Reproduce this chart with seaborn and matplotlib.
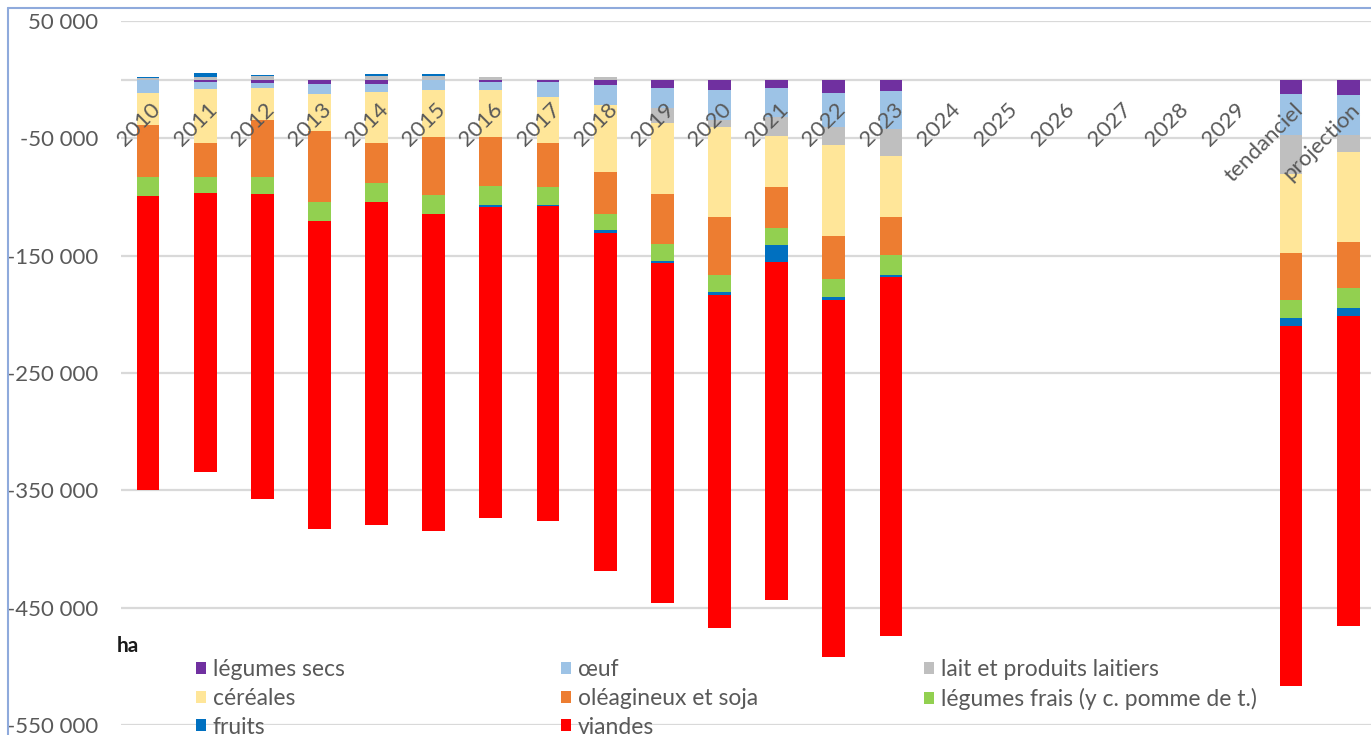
import numpy as np
import pandas as pd
import matplotlib
matplotlib.use("Agg")
import matplotlib.pyplot as plt
import seaborn as sns
from matplotlib.patches import Patch
from matplotlib.lines import Line2D

# ---------------- data ----------------
axis_categories = [str(y) for y in range(2010, 2030)] + ["tendanciel", "projection"]
bar_categories = [str(y) for y in range(2010, 2024)] + ["tendanciel", "projection"]

legumes_secs = [0, -2000, -3200, -4000, -4000, 0, -2000, -2300, -4900, -7200, -8900, -7200, -11700, -10000, -12500, -13400]
oeuf = [-11700, -6200, -4000, -8500, -6600, -8900, -6800, -12200, -17000, -17300, -25800, -24700, -29000, -32400, -34700, -33800]
lait = [1000, 2600, 3400, 0, 3000, 3500, 2000, 0, 2000, -12200, -5700, -16200, -14700, -22700, -32900, -14700]
cereales = [-27000, -45400, -27500, -31300, -43100, -39700, -39700, -39200, -56500, -60500, -76700, -43400, -77900, -52000, -67300, -76100]
oleagineux = [-44300, -29300, -48300, -60100, -34100, -49700, -42100, -37800, -35800, -42600, -49400, -35200, -36900, -32400, -40600, -39800]
legumes_frais = [-16200, -14100, -14100, -16200, -16200, -15800, -16200, -15300, -14200, -14800, -14100, -14200, -15300, -17000, -15300, -17000]
fruits = [1200, 2800, 1000, 0, 1700, 1100, -1700, -1100, -2000, -1400, -2900, -14100, -2100, -1700, -6800, -6800]
viandes = [-250700, -237400, -260400, -263000, -275700, -270600, -265200, -268300, -288500, -290200, -283900, -288500, -304500, -306000, -306600, -264100]

series_names = ["légumes secs", "œuf", "lait et produits laitiers", "céréales",
                "oléagineux et soja", "légumes frais (y c. pomme de t.)", "fruits", "viandes"]
series_values = [legumes_secs, oeuf, lait, cereales, oleagineux, legumes_frais, fruits, viandes]
colors = ["#7030A0", "#9DC3E6", "#BFBFBF", "#FFE699", "#ED7D31", "#92D050", "#0070C0", "#FF0000"]

y_ticks = [50000, -50000, -150000, -250000, -350000, -450000, -550000]

# ---------------- style ----------------
sns.set_style("white")
plt.rcParams["font.family"] = ["Lato", "DejaVu Sans"]
TXT = "#595959"

W, H = 1371, 735
fig = plt.figure(figsize=(W / 100, H / 100), dpi=100)
ax = fig.add_axes([121 / W, 1 - 725 / H, 1 - 121 / W, (725 - 21) / H])

vals = np.array(series_values, dtype=float)
pos_cum = np.cumsum(np.clip(vals, 0, None), axis=0)
neg_cum = np.cumsum(np.clip(vals, None, 0), axis=0)

for k in reversed(range(len(series_names))):
    for cum in (neg_cum, pos_cum):
        df = pd.DataFrame({"cat": bar_categories, "val": cum[k]})
        sns.barplot(data=df, x="cat", y="val", order=axis_categories, color=colors[k],
                    saturation=1, width=0.4, errorbar=None, linewidth=0, ax=ax, zorder=3)

ax.set_xlim(-0.4725, 21.40)
ax.set_ylim(-550000, 50000)
ax.set_yticks(y_ticks)
ax.set_yticklabels([f"{v:,}".replace(",", " ") for v in y_ticks], fontsize=16, color=TXT)
ax.tick_params(axis="y", length=0, pad=16.5)
ax.tick_params(axis="x", length=0, labelbottom=False)
ax.set_xlabel("")
ax.set_ylabel("")
for s in ax.spines.values():
    s.set_visible(False)
ax.grid(axis="y", color="#D9D9D9", linewidth=1.6, zorder=0)
ax.grid(axis="x", visible=False)
ax.set_axisbelow(True)
ax.axhline(0, color="#D9D9D9", linewidth=1.6, zorder=1)

# category labels next to the zero axis
for i, cat in enumerate(axis_categories):
    ax.text(i + 0.03, -17000, cat, rotation=45, ha="right", va="top", rotation_mode="anchor",
            fontsize=16, color=TXT, zorder=5)

# legend: three columns, row-major order as in the reference
handles = [Patch(facecolor=c, edgecolor="none") for c in colors]
cols = [[0, 3, 6], [1, 4, 7], [2, 5]]
col_x = [196, 561, 924]
for xs, idx in zip(col_x, cols):
    leg = fig.legend([handles[i] for i in idx], [series_names[i] for i in idx],
                     loc="upper left", bbox_to_anchor=(xs / W, 1 - 659 / H),
                     frameon=False, fontsize=16.5, labelcolor=TXT,
                     handlelength=0.44, handleheight=0.44, handletextpad=0.3,
                     labelspacing=0.34, borderpad=0, borderaxespad=0)

fig.text(117 / W, 1 - 646 / H, "ha", fontsize=15, fontweight="bold", color="#1a1a1a",
         ha="left", va="center")

# chart frame (left and top edges visible)
fig.add_artist(Line2D([8 / W, 8 / W], [0, 1 - 8 / H], transform=fig.transFigure,
                      color="#8FAADC", linewidth=1.5))
fig.add_artist(Line2D([8 / W, 1], [1 - 8 / H, 1 - 8 / H], transform=fig.transFigure,
                      color="#8FAADC", linewidth=1.5))

fig.savefig("out.png", dpi=100)
